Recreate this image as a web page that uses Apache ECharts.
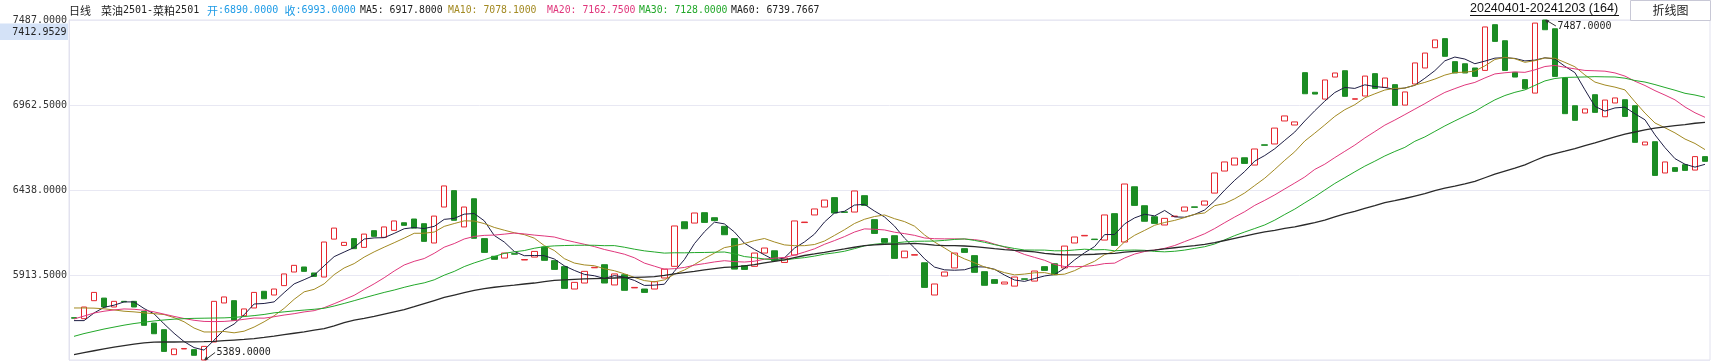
<!DOCTYPE html>
<html><head><meta charset="utf-8">
<script src="https://cdn.jsdelivr.net/npm/echarts@6/dist/echarts.min.js"></script>
<style>html,body{margin:0;padding:0;background:#fff;}#c{width:1712px;height:362px;}</style>
</head><body><div id="c"></div>
<script>
// ---------- data ----------
const dates = [
'20240401','20240402','20240403','20240408','20240409','20240410','20240411','20240412','20240415','20240416','20240417','20240418','20240419','20240422','20240423','20240424','20240425','20240426','20240429','20240430',
'20240506','20240507','20240508','20240509','20240510','20240513','20240514','20240515','20240516','20240517','20240520','20240521','20240522','20240523','20240524','20240527','20240528','20240529','20240530','20240531',
'20240603','20240604','20240605','20240606','20240607','20240611','20240612','20240613','20240614','20240617','20240618','20240619','20240620','20240621','20240624','20240625','20240626','20240627','20240628',
'20240701','20240702','20240703','20240704','20240705','20240708','20240709','20240710','20240711','20240712','20240715','20240716','20240717','20240718','20240719','20240722','20240723','20240724','20240725','20240726','20240729','20240730','20240731',
'20240801','20240802','20240805','20240806','20240807','20240808','20240809','20240812','20240813','20240814','20240815','20240816','20240819','20240820','20240821','20240822','20240823','20240826','20240827','20240828','20240829','20240830',
'20240902','20240903','20240904','20240905','20240906','20240909','20240910','20240911','20240912','20240913','20240918','20240919','20240920','20240923','20240924','20240925','20240926','20240927','20240930',
'20241008','20241009','20241010','20241011','20241014','20241015','20241016','20241017','20241018','20241021','20241022','20241023','20241024','20241025','20241028','20241029','20241030','20241031',
'20241101','20241104','20241105','20241106','20241107','20241108','20241111','20241112','20241113','20241114','20241115','20241118','20241119','20241120','20241121','20241122','20241125','20241126','20241127','20241128','20241129',
'20241202','20241203'];

const opens = [
5650,5644,5755,5771,5716,5751,5751,5689,5617,5576,5422,5457,5453,5389,5500,5741,5755,5662,5710,5813,
5790,5848,5932,5963,5926,5901,6135,6096,6138,6084,6187,6146,6189,6236,6259,6230,6111,6333,6434,6210,
6384,6138,6029,6018,6045,6006,6024,6086,6002,5965,5827,5864,5958,5977,5852,5915,5834,5827,5827,5895,
5967,6242,6234,6298,6267,6214,6138,5971,5967,6049,6063,5991,6037,6237,6284,6333,6391,6303,6302,6403,
6255,6138,6156,6020,6036,5989,5790,5907,5957,6076,6033,5934,5885,5858,5845,5890,5876,5965,5983,5957,
6111,6155,6135,6129,6292,6117,6458,6341,6273,6222,6274,6308,6334,6345,6419,6555,6592,6637,6592,6717,
6722,6864,6839,7162,7041,6999,7135,7174,6998,7018,7156,7071,7088,6962,7092,7191,7316,7372,7230,7217,
7191,7176,7458,7359,7164,7119,7036,7487,7433,7129,6958,6913,7026,6890,6975,6995,6958,6716,6736,6543,
6576,6594,6561,6644];

const closes = [
5647,5716,5806,5716,5751,5748,5716,5603,5551,5442,5457,5460,5418,5473,5751,5778,5634,5704,5806,5767,
5827,5920,5973,5936,5905,6117,6203,6115,6076,6166,6152,6210,6247,6220,6203,6121,6277,6463,6251,6333,
6140,6053,6010,6049,6042,6009,6059,6004,5948,5831,5868,5936,5961,5864,5920,5819,5837,5806,5872,5950,
6216,6199,6296,6238,6249,6162,5950,5948,6049,6080,6002,6018,6247,6240,6321,6376,6296,6300,6432,6343,
6170,6115,6016,6061,6039,5837,5858,5932,6049,6053,5930,5850,5862,5870,5901,5887,5938,5942,5915,6092,
6148,6158,6132,6284,6096,6475,6343,6245,6232,6263,6277,6333,6331,6370,6543,6611,6635,6602,6691,6714,
6820,6895,6858,7032,7030,7117,7160,7016,7001,7141,7065,7129,6960,7043,7222,7283,7364,7263,7160,7160,
7139,7444,7355,7176,7135,7063,7468,7427,7139,6909,6868,6938,6917,6993,7006,6892,6732,6734,6528,6611,
6553,6559,6644,6615];

// moving-average values at the start of the window (earlier history not shown)
const ma5Head  = [5632,5632,5679,5714];
const ma10Head = [5710,5710,5709,5705,5698,5690,5686,5680,5675];
const ma20Head = [5642,5660,5679,5690,5698,5704,5702,5696,5686,5672,5658,5645,5634,5627,5626,5627,5632,5640,5648];
const ma30Head = [5535,5552,5566,5580,5592,5604,5614,5622,5630,5636,5641,5644,5646,5647,5648,5649,5652,5657,5663,5670,
                  5680,5686,5692,5697,5702,5708,5722,5738,5755];
const ma60Head = [5422,5434,5446,5457,5468,5478,5487,5495,5499,5500,5500,5501,5501,5502,5504,5508,5512,5516,5521,5528,
                  5536,5545,5554,5563,5573,5583,5600,5619,5635,5646,5658,5672,5686,5700,5718,5737,5756,5775,5790,5805,
                  5818,5830,5838,5845,5851,5858,5864,5872,5880,5884,5887,5889,5891,5893,5895,5897,5899,5901,5903];

const yTicks = [5389, 5913.5, 6438, 6962.5, 7487];
const cursorValue = 7412.9529;

const periodLabel = '日线';
const productName = '菜油2501-菜粕2501';
const headerOpen = '6890.0000';
const headerClose = '6993.0000';
const maNames = ['MA5','MA10','MA20','MA30','MA60'];
const maHeader = ['6917.8000','7078.1000','7162.7500','7128.0000','6739.7667'];
const buttonLabel = '折线图';

// ---------- build ----------
const N = closes.length;
function movingAvg(n, head) {
  return closes.map((c, i) => {
    if (i < n - 1) return head[i];
    let s = 0; for (let k = i - n + 1; k <= i; k++) s += closes[k];
    return +(s / n).toFixed(2);
  });
}
const maPeriods = [5,10,20,30,60];
const maHeads = [ma5Head, ma10Head, ma20Head, ma30Head, ma60Head];
const maColors = ['#1E1E44','#A38A22','#E0377C','#22A82A','#2A2A2A'];
const maHeaderColors = ['#222222','#A38A22','#E0377C','#22A82A','#222222'];
const maWidths = [1,1,1,1,1.3];

const candleData = opens.map((o, i) => {
  const c = closes[i];
  return [o, c, Math.min(o, c), Math.max(o, c)];
});

const RED = '#E5262E', GREEN = '#1B8C23';
const MONO = '"DejaVu Sans Mono", monospace';
const CJK = '"Noto Sans CJK SC", sans-serif';

const chart = echarts.init(document.getElementById('c'), null, {renderer: 'canvas'});

const series = [{
  type: 'candlestick',
  data: candleData,
  barWidth: 6,
  itemStyle: {color: 'rgba(255,255,255,0)', color0: GREEN, borderColor: RED, borderColor0: GREEN, borderWidth: 1},
  z: 2
}];
maPeriods.forEach((p, k) => {
  series.push({
    type: 'line', name: maNames[k], data: movingAvg(p, maHeads[k]),
    showSymbol: false, symbol: 'none', smooth: false,
    lineStyle: {color: maColors[k], width: maWidths[k]}, z: 3, silent: true
  });
});

chart.setOption({
  animation: false,
  backgroundColor: '#ffffff',
  grid: {left: 69, right: 2, top: 20, bottom: 2, show: true, borderColor: '#E2E2EF', borderWidth: 1},
  xAxis: {type: 'category', data: dates, boundaryGap: true,
    axisLine: {show: false}, axisTick: {show: false}, axisLabel: {show: false}, splitLine: {show: false}},
  yAxis: {type: 'value', min: yTicks[0], max: yTicks[yTicks.length - 1], interval: yTicks[1] - yTicks[0],
    axisLine: {show: true, lineStyle: {color: '#E2E2EF'}}, axisTick: {show: false},
    axisLabel: {showMinLabel: false, formatter: v => v.toFixed(4), fontFamily: MONO, fontSize: 10, color: '#333', margin: 2},
    splitLine: {show: true, lineStyle: {color: '#E8E8F3', width: 1}}},
  series: series
});

// ---------- overlays positioned through the chart's own scales ----------
const g = [];
const hy = 10.5;
function txt(x, y, text, fill, font, align) {
  return {type: 'text', x: x, y: y, silent: true, z: 10,
    style: {text: text, fill: fill, font: font, align: align || 'left', verticalAlign: 'middle',
            textAlign: align || 'left', textVerticalAlign: 'middle'}};
}
g.push(txt(69, hy, periodLabel, '#222', '11px ' + CJK));
g.push({type: 'text', x: 101, y: hy, silent: true, z: 10,
  style: {text: '{c|菜油}{n|2501-}{c|菜粕}{n|2501}', fill: '#222', verticalAlign: 'middle', textVerticalAlign: 'middle',
    rich: {c: {font: '11px ' + CJK, fill: '#222'}, n: {font: '10px ' + MONO, fill: '#222'}}}});
g.push({type: 'text', x: 207, y: hy, silent: true, z: 10,
  style: {text: '{c|开}{n|:' + headerOpen + '}', verticalAlign: 'middle', textVerticalAlign: 'middle',
    rich: {c: {font: '11px ' + CJK, fill: '#1E9BE6'}, n: {font: '10px ' + MONO, fill: '#1E9BE6'}}}});
g.push({type: 'text', x: 284.5, y: hy, silent: true, z: 10,
  style: {text: '{c|收}{n|:' + headerClose + '}', verticalAlign: 'middle', textVerticalAlign: 'middle',
    rich: {c: {font: '11px ' + CJK, fill: '#1E9BE6'}, n: {font: '10px ' + MONO, fill: '#1E9BE6'}}}});
const maX = [360, 448, 547, 639, 731];
maNames.forEach((nm, k) => g.push(txt(maX[k], hy, nm + ': ' + maHeader[k], maHeaderColors[k], '9.8px ' + MONO)));

const rangeText = dates[0] + '-' + dates[N - 1] + ' (' + N + ')';
g.push(txt(1470, 9, rangeText, '#111', '12.5px "Liberation Sans", Arial, sans-serif'));
g.push({type: 'line', silent: true, z: 10, shape: {x1: 1470, y1: 15.5, x2: 1619, y2: 15.5}, style: {stroke: '#111', lineWidth: 1}});
g.push({type: 'rect', silent: true, z: 9, shape: {x: 1630.5, y: 0.5, width: 80, height: 20}, style: {fill: '#fff', stroke: '#C8C8D6', lineWidth: 1}});
g.push(txt(1670.5, 10.5, buttonLabel, '#222', '12px ' + CJK, 'center'));

const cy = chart.convertToPixel({yAxisIndex: 0}, cursorValue);
g.push({type: 'rect', silent: true, z: 10, shape: {x: 0, y: cy - 8.5, width: 68, height: 16.5}, style: {fill: '#D4E2F7'}});
g.push(txt(66.5, cy, cursorValue.toFixed(4), '#222', '10px ' + MONO, 'right'));

let iLo = 0, iHi = 0;
candleData.forEach((d, i) => { if (d[2] < candleData[iLo][2]) iLo = i; if (d[3] > candleData[iHi][3]) iHi = i; });
function annot(i, val, dy) {
  const p = chart.convertToPixel({xAxisIndex: 0, yAxisIndex: 0}, [i, val]);
  const ex = p[0] + 11, ey = p[1] + dy;
  g.push({type: 'line', silent: true, z: 11, shape: {x1: p[0] + 1, y1: p[1], x2: ex, y2: ey}, style: {stroke: '#333', lineWidth: 1}});
  const ang = Math.atan2(ey - p[1], ex - p[0]);
  const L = 4, W = 2;
  const bx = p[0] + Math.cos(ang) * L, by = p[1] + Math.sin(ang) * L;
  g.push({type: 'polygon', silent: true, z: 11, shape: {points: [[p[0], p[1]],
    [bx - Math.sin(ang) * W, by + Math.cos(ang) * W], [bx + Math.sin(ang) * W, by - Math.cos(ang) * W]]}, style: {fill: '#333'}});
  g.push(txt(ex + 1.5, ey, val.toFixed(4), '#222', '10px ' + MONO));
}
annot(iLo, candleData[iLo][2], -7.5);
annot(iHi, candleData[iHi][3], 6);

chart.setOption({graphic: {elements: g}});
</script>
</body></html>
